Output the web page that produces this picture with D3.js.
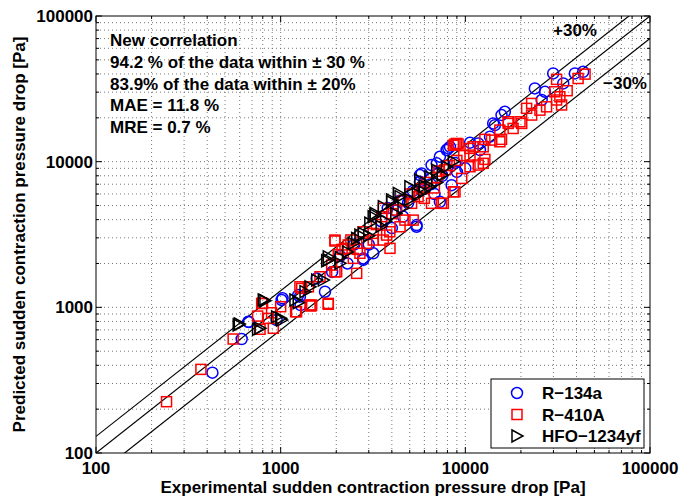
<!DOCTYPE html>
<html>
<head>
<meta charset="utf-8">
<script src="https://cdn.jsdelivr.net/npm/d3@7"></script>
<style>
body { margin: 0; background: #fff; }
text { font-family: Arial, "Liberation Sans", sans-serif; font-weight: bold; fill: #000; }
</style>
</head>
<body>
<div id="chart"></div>
<script>
// [experimental, predicted] in Pa
const r134a = [
    [427,356],[615,606],[673,792],[668,796],[951,818],[1012,1123],[1024,1154],[1282,1037],
    [1245,1213],[1271,1183],[1567,1580],[1738,1280],[1900,1750],[2100,2250],[2300,2000],
    [2500,2700],[2800,2115],[3170,2350],[2800,2168],[3000,2700],[3500,3900],[4000,3500],
    [3800,4800],[4200,4600],[4600,4200],[4400,5400],[4900,5200],[5200,6300],[5445,3670],
    [5445,3575],[5675,8090],[5800,8300],[5675,7280],[6000,6500],[6500,7000],[6800,6000],
    [6560,9480],[7280,5305],[7000,9740],[7280,10810],[7500,8000],[7920,12020],[8090,12330],
    [8260,12650],[8430,6900],[8800,9800],[9000,8500],[10000,9000],[10600,13500],[12000,12020],
    [11750,13340],[13600,14840],[14450,17800],[14150,18300],[15700,20890],[16370,22000],
    [23800,31840],[27000,30200],[25900,26500],[29900,40360],[33900,34440],[39200,40360],[43450,41400]
];
const r410a = [
    [241,225],[370,375],[553,606],[750,871],[773,707],[912,718],[857,840],[893,918],[798,1064],
    [789,1064],[1000,1010],[1205,933],[1219,933],[1458,1021],[1811,1050],[1811,1064],[1472,1037],
    [1442,1037],[1413,1383],[1300,1349],[1271,1383],[1633,1622],[2010,1754],[1968,1754],[1888,1950],
    [1968,2852],[1968,2897],[2230,2541],[2323,2680],[2580,1711],[2473,2168],[2687,2350],[2925,2750],
    [2800,3300],[3170,2897],[3170,3220],[3300,3700],[3750,3133],[3597,2897],[3908,2541],[3900,3300],
    [3525,4190],[3597,4776],[4000,4400],[4250,4660],[4600,5400],[4710,3970],[4430,3575],[5220,3970],
    [5000,6000],[5115,5176],[5550,5750],[5800,6500],[6000,5600],[6200,7200],[6560,5176],[6800,6600],
    [7000,7800],[7200,8600],[7600,5176],[7430,5176],[7800,8800],[8200,9400],[8610,6210],[8790,6210],
    [9000,10200],[9560,7670],[9800,11000],[10600,9230],[11750,9480],[12500,9740],[10600,11090],
    [11040,12650],[12500,12650],[13860,14060],[15380,13700],[15380,16480],[17070,18300],[20200,18300],
    [12760,10370],[12760,14230],[15700,14230],[18150,16900],[17070,18790],[19770,18790],[22860,20890],
    [21480,23230],[25350,22580],[27540,23800],[22860,25100],[33200,24500],[31200,26500],[32500,27900],
    [35600,30700],[30500,30200],[31200,36730],[40800,37240],[44500,39900],[8790,13200],[9140,13200],
    [8970,13340],[8610,12960],[10600,12330],[2150,2500],[2400,2900],[2600,2500],[2050,2300]
];
const hfo = [
    [597,768],[589,757],[750,707],[773,718],[822,1110],[805,1123],[951,861],[1012,818],[1000,840],
    [1245,1076],[1195,1123],[1355,1280],[1442,1383],[1567,1538],[1703,1538],[1775,2090],[1811,2115],
    [1811,2223],[2095,2005],[2100,2200],[2300,2400],[2473,2750],[2580,2972],[2687,3133],[2800,3220],
    [3000,3100],[3040,3776],[3170,4190],[3245,4295],[3245,4420],[3500,3600],[3700,3900],[3597,4910],
    [3990,5305],[3990,5460],[4200,4400],[4336,6055],[4430,5750],[4600,4800],[5000,5500],[5010,6730],
    [5500,6000],[5675,7480],[5930,6210],[6000,6800],[6430,6730],[6430,7870],[7000,7200],[7000,8750],
    [7500,8100],[7920,9230],[8610,10000]
];
const series = [
    {name: 'R\u2212134a', data: r134a, color: '#0000ff', shape: 'circle'},
    {name: 'R\u2212410A', data: r410a, color: '#ff0000', shape: 'square'},
    {name: 'HFO\u22121234yf', data: hfo, color: '#000000', shape: 'triangle'}
];
const decades = [100, 1000, 10000, 100000];
const bands = [1.3, 1, 0.7];
const notes = [
    'New correlation',
    '94.2 % of the data within \u00b1 30 %',
    '83.9% of the data within \u00b1 20%',
    'MAE = 11.8 %',
    'MRE = 0.7 %'
];

const width = 679, height = 497;
const margin = {top: 16, right: 29, bottom: 44, left: 96};
const x0 = margin.left, x1 = width - margin.right;
const y0 = height - margin.bottom, y1 = margin.top;
const fs = 17;

const svg = d3.select('#chart').append('svg')
    .attr('width', width)
    .attr('height', height);

const x = d3.scaleLog().domain([100, 100000]).range([x0, x1]);
const y = d3.scaleLog().domain([100, 100000]).range([y0, y1]);

// all tick values: decades + 2..9 inside each decade
let minor = [];
decades.slice(0, -1).forEach(d => { for (let k = 2; k < 10; k++) minor.push(d * k); });
const allTicks = decades.concat(minor);
const inner = allTicks.filter(v => v > 100 && v < 100000);

// grid
const grid = svg.append('g').attr('class', 'grid')
    .attr('stroke', '#555').attr('stroke-width', 0.8).attr('stroke-dasharray', '1,3');
grid.selectAll('.gx').data(inner).join('line')
    .attr('class', 'gx')
    .attr('x1', d => x(d)).attr('x2', d => x(d)).attr('y1', y0).attr('y2', y1);
grid.selectAll('.gy').data(inner).join('line')
    .attr('class', 'gy')
    .attr('y1', d => y(d)).attr('y2', d => y(d)).attr('x1', x0).attr('x2', x1);

// reference lines, clipped to the axes box
svg.append('clipPath').attr('id', 'clip').append('rect')
    .attr('x', x0).attr('y', y1).attr('width', x1 - x0).attr('height', y0 - y1);
svg.append('g').attr('clip-path', 'url(#clip)')
    .selectAll('line').data(bands).join('line')
    .attr('x1', x(100)).attr('y1', d => y(100 * d))
    .attr('x2', x(100000)).attr('y2', d => y(100000 * d))
    .attr('stroke', '#000').attr('stroke-width', 1.2);

// markers
const tri = 'M-5,-6L6,0L-5,6Z';
function drawMarker(sel, s) {
    if (s.shape === 'circle') {
        sel.append('circle').attr('r', 5.5);
    } else if (s.shape === 'square') {
        sel.append('rect').attr('x', -5).attr('y', -5).attr('width', 10).attr('height', 10);
    } else {
        sel.append('path').attr('d', tri);
    }
    sel.attr('fill', 'none').attr('stroke', s.color).attr('stroke-width', 1.5);
}
const dataRegion = svg.append('g').attr('id', 'data');
series.forEach(s => {
    dataRegion.append('g').selectAll('g').data(s.data).join('g')
        .attr('transform', d => `translate(${x(d[0])},${y(d[1])})`)
        .each(function () { drawMarker(d3.select(this), s); });
});

// axes box with inward ticks on all four sides
const box = svg.append('g').attr('stroke', '#000').attr('stroke-width', 1);
box.append('rect').attr('x', x0).attr('y', y1).attr('width', x1 - x0).attr('height', y0 - y1)
    .attr('fill', 'none');
const tickLen = d => decades.includes(d) ? 6 : 3;
allTicks.forEach(v => {
    const l = tickLen(v);
    box.append('line').attr('x1', x(v)).attr('x2', x(v)).attr('y1', y0).attr('y2', y0 - l);
    box.append('line').attr('x1', x(v)).attr('x2', x(v)).attr('y1', y1).attr('y2', y1 + l);
    box.append('line').attr('y1', y(v)).attr('y2', y(v)).attr('x1', x0).attr('x2', x0 + l);
    box.append('line').attr('y1', y(v)).attr('y2', y(v)).attr('x1', x1).attr('x2', x1 - l);
});

// tick labels
svg.append('g').selectAll('text').data(decades).join('text')
    .attr('x', d => x(d)).attr('y', y0 + 21)
    .attr('text-anchor', 'middle').attr('font-size', fs)
    .text(d => d);
svg.append('g').selectAll('text').data(decades).join('text')
    .attr('x', x0 - 3).attr('y', d => y(d) + 6)
    .attr('text-anchor', 'end').attr('font-size', fs)
    .text(d => d);

// axis titles
svg.append('text')
    .attr('x', (x0 + x1) / 2).attr('y', 493)
    .attr('text-anchor', 'middle').attr('font-size', fs)
    .text('Experimental sudden contraction pressure drop [Pa]');
svg.append('text')
    .attr('transform', `translate(25,${(y0 + y1) / 2}) rotate(-90)`)
    .attr('text-anchor', 'middle').attr('font-size', fs)
    .text('Predicted sudden contraction pressure drop [Pa]');

// annotation
svg.append('g').selectAll('text').data(notes).join('text')
    .attr('x', 110).attr('y', (d, i) => 46 + i * 21.8)
    .attr('font-size', fs)
    .text(d => d);
svg.append('text').attr('x', 553).attr('y', 36).attr('font-size', fs).text('+30%');
svg.append('text').attr('x', 603).attr('y', 89).attr('font-size', fs).text('\u221230%');

// legend
const legend = svg.append('g');
legend.append('rect')
    .attr('x', 491).attr('y', 379).attr('width', 153).attr('height', 69)
    .attr('fill', '#fff').attr('stroke', '#000').attr('stroke-width', 1);
series.forEach((s, i) => {
    const ly = 393 + i * 21.5;
    const g = legend.append('g').attr('transform', `translate(517,${ly})`);
    drawMarker(g, s);
    legend.append('text').attr('x', 542).attr('y', ly + 6)
        .attr('font-size', fs).text(s.name);
});
</script>
</body>
</html>
